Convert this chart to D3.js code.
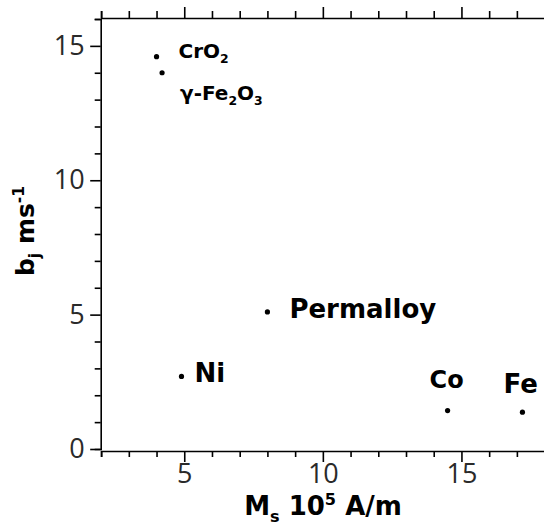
<!DOCTYPE html>
<html>
<head>
<meta charset="utf-8">
<script src="https://cdn.jsdelivr.net/npm/d3@7"></script>
<style>
  html, body { margin: 0; padding: 0; background: #fff; }
  svg { display: block; }
  .tick text { font-family: "Open Sans", "Noto Sans", sans-serif; font-weight: 400; fill: #2a2a2a; }
  .lbl { font-family: "DejaVu Sans", sans-serif; font-weight: bold; fill: #000; }
</style>
</head>
<body>
<svg id="chart" width="544" height="525"></svg>
<script>
// Materials: saturation magnetisation (10^5 A/m) vs. b_j (m/s)
const materials = ["CrO2", "γ-Fe2O3", "Permalloy", "Ni", "Co", "Fe"];
const msValues  = [4.0, 4.2, 8.0, 4.9, 14.5, 17.2];
const bjValues  = [14.6, 14.0, 5.1, 2.7, 1.43, 1.37];
const xTickLabels = [5, 10, 15];
const yTickLabels = [0, 5, 10, 15];

const svg = d3.select("#chart");

const x = d3.scaleLinear().domain([2, 18]).range([101.1, 544.6]);
const y = d3.scaleLinear().domain([0, 16]).range([449, 19]);

const axisStyle = g => {
  g.selectAll("path.domain").attr("stroke", "#000").attr("stroke-width", 1.6);
  g.selectAll(".tick line").attr("stroke", "#000").attr("stroke-width", 1.6);
};

// bottom axis
const gx = svg.append("g").attr("transform", "translate(0,451)")
  .call(d3.axisBottom(x).tickValues(d3.range(2, 19)).tickSizeOuter(0).tickSize(6)
    .tickFormat(d => xTickLabels.includes(d) ? d : ""));
gx.call(axisStyle);
gx.selectAll(".tick").filter(d => xTickLabels.includes(d)).select("line").attr("y2", 11);
gx.selectAll(".tick text").attr("font-size", 27).attr("y", 13);

// top axis (ticks only)
const gt = svg.append("g").attr("transform", "translate(0,18)")
  .call(d3.axisTop(x).tickValues(d3.range(2, 19)).tickSizeOuter(0).tickSize(7).tickFormat(""));
gt.call(axisStyle);
gt.selectAll(".tick").filter(d => xTickLabels.includes(d)).select("line").attr("y2", -11);

// left axis
const gy = svg.append("g").attr("transform", "translate(100.7,0)")
  .call(d3.axisLeft(y).tickValues(d3.range(0, 17)).tickSizeOuter(0).tickSize(6)
    .tickFormat(d => yTickLabels.includes(d) ? d : ""));
gy.call(axisStyle);
gy.selectAll(".tick").filter(d => yTickLabels.includes(d)).select("line").attr("x2", -10.5);
gy.selectAll(".tick text").attr("font-size", 27).attr("x", -16);

// points
svg.append("g").selectAll("circle")
  .data(materials)
  .join("circle")
  .attr("cx", (d, i) => x(msValues[i]))
  .attr("cy", (d, i) => y(bjValues[i]))
  .attr("r", 2.6)
  .attr("fill", "#000");

// text with sub/superscripts, shifted by explicit dy so the baseline returns cleanly
function richText(sel, parts, size) {
  let shift = 0;
  parts.forEach(p => {
    const target = p.sub ? 0.25 * size : p.sup ? -0.4 * size : 0;
    const t = sel.append("tspan").text(p.t).attr("dy", target - shift);
    if (p.sub || p.sup) t.attr("font-size", 0.62 * size);
    shift = target;
  });
}

const labelSpec = [
  { i: 0, dx: 22, dy: 1, size: 20, parts: [{t: "CrO"}, {t: "2", sub: true}] },
  { i: 1, dx: 18, dy: 27, size: 20, parts: [{t: "γ-Fe"}, {t: "2", sub: true}, {t: "O"}, {t: "3", sub: true}] },
  { i: 2, dx: 22, dy: 6, size: 26, parts: [{t: "Permalloy"}] },
  { i: 3, dx: 13, dy: 6, size: 26, parts: [{t: "Ni"}] },
  { i: 4, dx: -18, dy: -23, size: 24, parts: [{t: "Co"}] },
  { i: 5, dx: -19, dy: -19, size: 26, parts: [{t: "Fe"}] }
];
labelSpec.forEach(s => {
  const t = svg.append("text").attr("class", "lbl")
    .attr("x", x(msValues[s.i]) + s.dx)
    .attr("y", y(bjValues[s.i]) + s.dy)
    .attr("font-size", s.size);
  richText(t, s.parts, s.size);
});

// axis titles
const xt = svg.append("text").attr("class", "lbl").attr("font-size", 26)
  .attr("text-anchor", "middle").attr("x", 323).attr("y", 515);
richText(xt, [{t: "M"}, {t: "s", sub: true}, {t: " 10"}, {t: "5", sup: true}, {t: " A/m"}], 26);

const yt = svg.append("text").attr("class", "lbl").attr("font-size", 25)
  .attr("text-anchor", "middle")
  .attr("transform", "translate(34,231) rotate(-90)");
richText(yt, [{t: "b"}, {t: "j", sub: true}, {t: " ms"}, {t: "-1", sup: true}], 25);
</script>
</body>
</html>
